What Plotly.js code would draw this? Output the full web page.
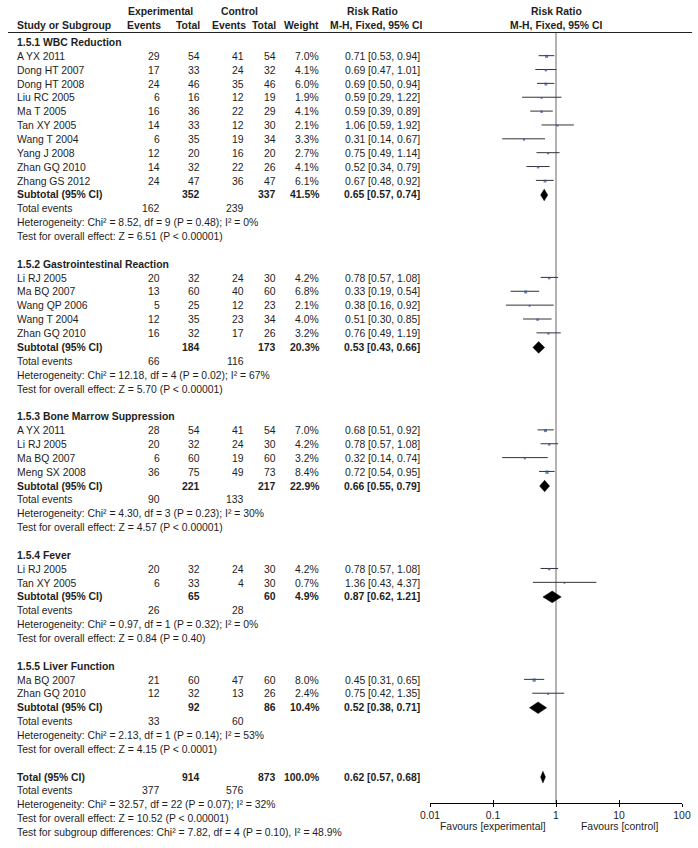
<!DOCTYPE html>
<html>
<head>
<meta charset="utf-8">
<script src="https://cdn.plot.ly/plotly-3.0.1.min.js"></script>
<style>html,body{margin:0;padding:0;background:#fff;}#chart{width:698px;height:848px;}</style>
</head>
<body>
<div id="chart"></div>
<script>
// ---------------- DATA ----------------
const groupTitles = ["1.5.1 WBC Reduction", "1.5.2 Gastrointestinal Reaction", "1.5.3 Bone Marrow Suppression", "1.5.4 Fever", "1.5.5 Liver Function"];

const studyGroup = [0,0,0,0,0,0,0,0,0,0, 1,1,1,1,1, 2,2,2,2, 3,3, 4,4];
const studyNames = ["A YX 2011","Dong HT 2007","Dong HT 2008","Liu RC 2005","Ma T 2005","Tan XY 2005","Wang T 2004","Yang J 2008","Zhan GQ 2010","Zhang GS 2012",
  "Li RJ 2005","Ma BQ 2007","Wang QP 2006","Wang T 2004","Zhan GQ 2010",
  "A YX 2011","Li RJ 2005","Ma BQ 2007","Meng SX 2008",
  "Li RJ 2005","Tan XY 2005",
  "Ma BQ 2007","Zhan GQ 2010"];
const expEvents  = [29,17,24,6,16,14,6,12,14,24, 20,13,5,12,16, 28,20,6,36, 20,6, 21,12];
const expTotal   = [54,33,46,16,36,33,35,20,32,47, 32,60,25,35,32, 54,32,60,75, 32,33, 60,32];
const ctrlEvents = [41,24,35,12,22,12,19,16,22,36, 24,40,12,23,17, 41,24,19,49, 24,4, 47,13];
const ctrlTotal  = [54,32,46,19,29,30,34,20,26,47, 30,60,23,34,26, 54,30,60,73, 30,30, 60,26];
const weights    = [7.0,4.1,6.0,1.9,4.1,2.1,3.3,2.7,4.1,6.1, 4.2,6.8,2.1,4.0,3.2, 7.0,4.2,3.2,8.4, 4.2,0.7, 8.0,2.4];
const rr         = [0.71,0.69,0.69,0.59,0.59,1.06,0.31,0.75,0.52,0.67, 0.78,0.33,0.38,0.51,0.76, 0.68,0.78,0.32,0.72, 0.78,1.36, 0.45,0.75];
const ciLow      = [0.53,0.47,0.50,0.29,0.39,0.59,0.14,0.49,0.34,0.48, 0.57,0.19,0.16,0.30,0.49, 0.51,0.57,0.14,0.54, 0.57,0.43, 0.31,0.42];
const ciHigh     = [0.94,1.01,0.94,1.22,0.89,1.92,0.67,1.14,0.79,0.92, 1.08,0.54,0.92,0.85,1.19, 0.92,1.08,0.74,0.95, 1.08,4.37, 0.65,1.35];

const subExpTotal   = [352,184,221,65,92];
const subCtrlTotal  = [337,173,217,60,86];
const subWeight     = [41.5,20.3,22.9,4.9,10.4];
const subRR         = [0.65,0.53,0.66,0.87,0.52];
const subLow        = [0.57,0.43,0.55,0.62,0.38];
const subHigh       = [0.74,0.66,0.79,1.21,0.71];
const subExpEvents  = [162,66,90,26,33];
const subCtrlEvents = [239,116,133,28,60];
const subHet = ["Chi² = 8.52, df = 9 (P = 0.48); I² = 0%",
                "Chi² = 12.18, df = 4 (P = 0.02); I² = 67%",
                "Chi² = 4.30, df = 3 (P = 0.23); I² = 30%",
                "Chi² = 0.97, df = 1 (P = 0.32); I² = 0%",
                "Chi² = 2.13, df = 1 (P = 0.14); I² = 53%"];
const subZ = ["Z = 6.51 (P &lt; 0.00001)","Z = 5.70 (P &lt; 0.00001)","Z = 4.57 (P &lt; 0.00001)","Z = 0.84 (P = 0.40)","Z = 4.15 (P &lt; 0.0001)"];

const totExpTotal = 914, totCtrlTotal = 873, totWeight = 100.0;
const totRR = 0.62, totLow = 0.57, totHigh = 0.68;
const totExpEvents = 377, totCtrlEvents = 576;
const totHet = "Chi² = 32.57, df = 22 (P = 0.07); I² = 32%";
const totZ = "Z = 10.52 (P &lt; 0.00001)";
const subgroupDiff = "Chi² = 7.82, df = 4 (P = 0.10), I² = 48.9%";

const tickVals = [0.01, 0.1, 1, 10, 100];
const tickText = ["0.01", "0.1", "1", "10", "100"];

// ---------------- LAYOUT HELPERS ----------------
const W = 698, H = 848;
const FONT = "Liberation Sans, Arial, sans-serif";
const TXT = "#1e1e1e";
const FS = 10.4;
const ann = [];
function txt(xpx, y, s, anchor, bold) {
  ann.push({xref:'paper', yref:'y', x: xpx / W, y: y, text: bold ? '<b>' + s + '</b>' : s,
    xanchor: anchor, yanchor: 'middle', showarrow: false, borderpad: 0,
    font: {family: FONT, size: FS, color: TXT}});
}
const fmt2 = v => v.toFixed(2);
const ciStr = (a, b, c) => fmt2(a) + ' [' + fmt2(b) + ', ' + fmt2(c) + ']';

const COL = {name: 15.5, ee: 160.5, et: 200.5, ce: 245, ct: 276.5, w: 319.5, rr: 421};
const P = 13.86;
let y = 42.5;

// header
txt(160.5, 11, 'Experimental', 'center', true);
txt(240, 11, 'Control', 'center', true);
txt(372, 11, 'Risk Ratio', 'center', true);
txt(556, 11, 'Risk Ratio', 'center', true);
txt(COL.name, 25, 'Study or Subgroup', 'left', true);
txt(COL.ee + 1.5, 25, 'Events', 'right', true);
txt(COL.et, 25, 'Total', 'right', true);
txt(COL.ce + 1.5, 25, 'Events', 'right', true);
txt(COL.ct, 25, 'Total', 'right', true);
txt(COL.w, 25, 'Weight', 'right', true);
txt(423, 25, 'M-H, Fixed, 95% CI', 'right', true);
txt(556, 25, 'M-H, Fixed, 95% CI', 'center', true);

const lineX = [], lineY = [];
const sqX = [], sqY = [], sqS = [];
const diamonds = [];

for (let g = 0; g < groupTitles.length; g++) {
  txt(COL.name, y, groupTitles[g], 'left', true); y += P;
  for (let i = 0; i < studyNames.length; i++) {
    if (studyGroup[i] !== g) continue;
    txt(COL.name, y, studyNames[i], 'left');
    txt(COL.ee, y, String(expEvents[i]), 'right');
    txt(COL.et, y, String(expTotal[i]), 'right');
    txt(COL.ce, y, String(ctrlEvents[i]), 'right');
    txt(COL.ct, y, String(ctrlTotal[i]), 'right');
    txt(COL.w, y, weights[i].toFixed(1) + '%', 'right');
    txt(COL.rr, y, ciStr(rr[i], ciLow[i], ciHigh[i]), 'right');
    lineX.push(ciLow[i], ciHigh[i], null); lineY.push(y - 0.7, y - 0.7, null);
    sqX.push(rr[i]); sqY.push(y); sqS.push(1.5 + weights[i] * 0.22);
    y += P;
  }
  txt(COL.name, y, 'Subtotal (95% CI)', 'left', true);
  txt(COL.et, y, String(subExpTotal[g]), 'right', true);
  txt(COL.ct, y, String(subCtrlTotal[g]), 'right', true);
  txt(COL.w, y, subWeight[g].toFixed(1) + '%', 'right', true);
  txt(COL.rr, y, ciStr(subRR[g], subLow[g], subHigh[g]), 'right', true);
  diamonds.push({lo: subLow[g], mid: subRR[g], hi: subHigh[g], y: y, h: 5.8});
  y += P;
  txt(COL.name, y, 'Total events', 'left');
  txt(COL.ee, y, String(subExpEvents[g]), 'right');
  txt(COL.ce, y, String(subCtrlEvents[g]), 'right');
  y += P;
  txt(COL.name, y, 'Heterogeneity: ' + subHet[g], 'left'); y += P;
  txt(COL.name, y, 'Test for overall effect: ' + subZ[g], 'left'); y += 2 * P;
}
txt(COL.name, y, 'Total (95% CI)', 'left', true);
txt(COL.et, y, String(totExpTotal), 'right', true);
txt(COL.ct, y, String(totCtrlTotal), 'right', true);
txt(COL.w, y, totWeight.toFixed(1) + '%', 'right', true);
txt(COL.rr, y, ciStr(totRR, totLow, totHigh), 'right', true);
diamonds.push({lo: totLow, mid: totRR, hi: totHigh, y: y, h: 5.8});
y += P;
txt(COL.name, y, 'Total events', 'left');
txt(COL.ee, y, String(totExpEvents), 'right');
txt(COL.ce, y, String(totCtrlEvents), 'right');
y += P;
txt(COL.name, y, 'Heterogeneity: ' + totHet, 'left'); y += P;
txt(COL.name, y, 'Test for overall effect: ' + totZ, 'left'); y += P;
txt(COL.name, y, 'Test for subgroup differences: ' + subgroupDiff, 'left');

const AXIS_Y = 803;
// favours labels
ann.push({xref:'x', yref:'y', x: Math.log10(0.1), y: 826, text: 'Favours [experimental]', xanchor:'center', yanchor:'middle', showarrow:false, font:{family:FONT, size:FS, color:TXT}});
ann.push({xref:'x', yref:'y', x: Math.log10(10), y: 826, text: 'Favours [control]', xanchor:'center', yanchor:'middle', showarrow:false, font:{family:FONT, size:FS, color:TXT}});

const traces = [];
// reference line at RR = 1
traces.push({x:[1,1], y:[33, AXIS_Y], mode:'lines', line:{color:'#9a9a9a', width:1.5}, hoverinfo:'skip'});
// CI lines
traces.push({x: lineX, y: lineY, mode:'lines', line:{color:'#333', width:1}, hoverinfo:'skip', connectgaps:false});
// squares
traces.push({x: sqX, y: sqY, mode:'markers', marker:{symbol:'square', size: sqS, color:'#2f4d9c', line:{width:0}}, hoverinfo:'skip'});
// diamonds
diamonds.forEach(d => {
  traces.push({x:[d.lo, d.mid, d.hi, d.mid, d.lo], y:[d.y, d.y - d.h, d.y, d.y + d.h, d.y],
    mode:'lines', fill:'toself', fillcolor:'#000', line:{color:'#000', width:0.5}, hoverinfo:'skip'});
});
// invisible trace on overlay axis so its inward ticks render
traces.push({x:[0.01, 100], y:[AXIS_Y, AXIS_Y], xaxis:'x2', mode:'lines', line:{width:0, color:'rgba(0,0,0,0)'}, hoverinfo:'skip'});

const layout = {
  width: W, height: H,
  margin: {l:0, r:0, t:0, b:0},
  paper_bgcolor: '#fff', plot_bgcolor: 'rgba(0,0,0,0)',
  showlegend: false,
  xaxis: {type:'log', range:[-2, 2], domain:[430/W, 682/W], anchor:'free', position: 1 - AXIS_Y / H,
    showline:true, linecolor:'#000', linewidth:1, ticks:'outside', ticklen:3, tickcolor:'#000', tickwidth:1,
    tickvals: tickVals, ticktext: tickText, tickfont:{family:FONT, size:FS, color:TXT},
    showgrid:false, zeroline:false, fixedrange:true},
  xaxis2: {type:'log', range:[-2, 2], domain:[430/W, 682/W], anchor:'free', position: 1 - AXIS_Y / H,
    overlaying:'x', side:'bottom', showline:false, ticks:'inside', ticklen:3, tickcolor:'#000', tickwidth:1,
    tickvals: tickVals, showticklabels:false, showgrid:false, zeroline:false, fixedrange:true},
  yaxis: {range:[H, 0], domain:[0,1], visible:false, showgrid:false, zeroline:false, fixedrange:true},
  shapes: [{type:'line', xref:'paper', yref:'y', x0: 8/W, x1: 692/W, y0: 32.5, y1: 32.5, line:{color:'#222', width:1}}],
  annotations: ann
};
Plotly.newPlot('chart', traces, layout, {displayModeBar:false, staticPlot:true});
</script>
</body>
</html>
